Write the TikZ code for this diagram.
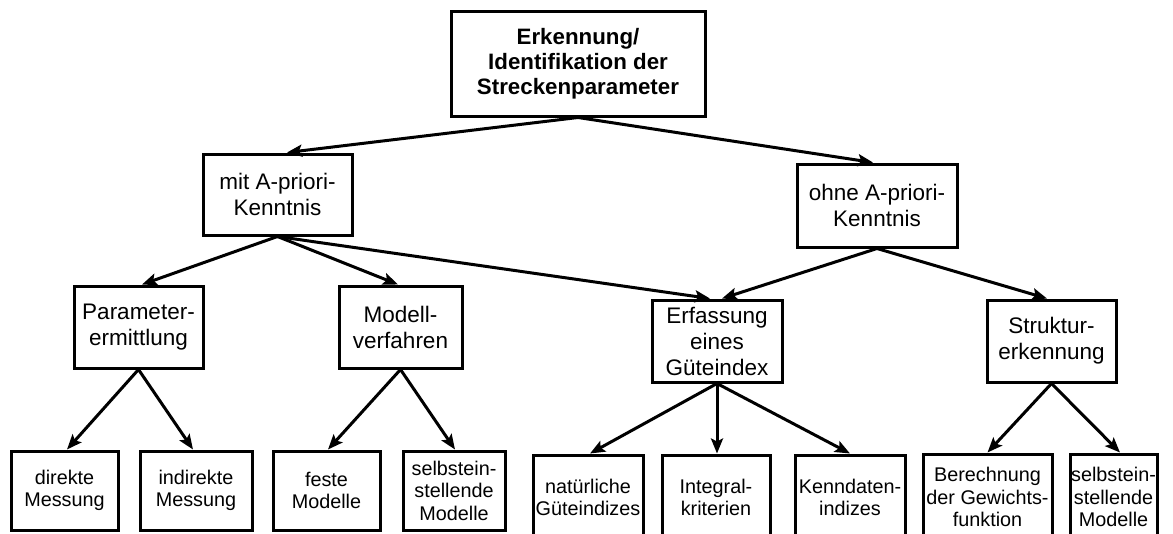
\documentclass[tikz,border=0pt]{standalone}
\usepackage{fontspec}
\setmainfont{Liberation Sans}
\usetikzlibrary{arrows.meta,calc}
\begin{document}
\begin{tikzpicture}[x=1pt,y=-1pt,
  box/.style={draw, line width=3pt, rectangle, align=center, inner sep=0pt},
  toptxt/.style={font=\fontsize{22.3}{25}\selectfont\bfseries},
  midtxt/.style={font=\fontsize{22.5}{26}\selectfont},
  lowtxt/.style={font=\fontsize{19.8}{22.5}\selectfont},
  link/.style={line width=3pt, -{Stealth[length=15pt,width=12pt,inset=3pt]}}]
\useasboundingbox (0,0) rectangle (1173,533);
\clip (0,0) rectangle (1173,533);

% root
\node[box, toptxt, minimum width=254pt, minimum height=105pt] (top) at (578,63.5)
  {Erkennung/\\Identifikation der\\Streckenparameter};

% second level
\node[box, midtxt, minimum width=149pt, minimum height=81pt] (mit) at (277.5,194.5)
  {mit A-priori-\\Kenntnis};
\node[box, midtxt, minimum width=160pt, minimum height=83pt] (ohne) at (877,205.5)
  {ohne A-priori-\\Kenntnis};

% third level
\node[box, midtxt, minimum width=129pt, minimum height=82pt] (param) at (138.5,327)
  {Parameter-\\ermittlung};
\node[box, midtxt, minimum width=123pt, minimum height=82pt] (modell) at (400.5,327)
  {Modell-\\verfahren};
\node[box, midtxt, minimum width=130pt, minimum height=82pt] (erf) at (717,341)
  {Erfassung\\eines\\Güteindex};
\node[box, midtxt, minimum width=129pt, minimum height=82pt] (struk) at (1051.5,341)
  {Struktur-\\erkennung};

% leaves
\node[box, lowtxt, minimum width=107pt, minimum height=79pt] (direkt) at (64.5,490.5)
  {direkte\\Messung};
\node[box, lowtxt, minimum width=112pt, minimum height=79pt] (indirekt) at (196,490.5)
  {indirekte\\Messung};
\node[box, lowtxt, minimum width=107pt, minimum height=79pt] (feste) at (326.5,490.5)
  {feste\\Modelle};
\node[box, lowtxt, minimum width=102pt, minimum height=79pt] (selbstA) at (454,490.5)
  {selbstein-\\stellende\\Modelle};
\node[box, lowtxt, minimum width=110pt, minimum height=85pt] (nat) at (588,497.5)
  {natürliche\\Güteindizes};
\node[box, lowtxt, minimum width=108pt, minimum height=85pt] (integ) at (716,497.5)
  {Integral-\\kriterien};
\node[box, lowtxt, minimum width=110pt, minimum height=85pt] (kenn) at (850,497.5)
  {Kenndaten-\\indizes};
\node[box, lowtxt, minimum width=129pt, minimum height=86pt] (berech) at (987.5,497)
  {Berechnung\\der Gewichts-\\funktion};
\node[box, lowtxt, minimum width=87pt, minimum height=86pt] (selbstB) at (1113.5,497)
  {selbstein-\\stellende\\Modelle};

% connectors
\draw[link] (top.south) -- ($(mit.north)+(9.5,0)$);
\draw[link] (top.south) -- ($(ohne.north)+(-4,0)$);

\draw[link] (mit.south) -- ($(param.north)+(3.5,0)$);
\draw[link] (mit.south) -- ($(modell.north)+(-2.5,0)$);
\draw[link] (mit.south) -- ($(erf.north)+(-7,0)$);

\draw[link] (ohne.south) -- ($(erf.north)+(5,0)$);
\draw[link] (ohne.south) -- ($(struk.north)+(-4.5,0)$);

\draw[link] (param.south) -- ($(direkt.north)+(2.5,0)$);
\draw[link] (param.south) -- ($(indirekt.north)+(-3,0)$);

\draw[link] (modell.south) -- ($(feste.north)+(1.5,0)$);
\draw[link] (modell.south) -- ($(selbstA.north)+(1,0)$);

\draw[link] (erf.south) -- ($(nat.north)+(2,0)$);
\draw[link] (erf.south) -- ($(integ.north)+(1,0)$);
\draw[link] (erf.south) -- (kenn.north);

\draw[link] (struk.south) -- (berech.north);
\draw[link] (struk.south) -- ($(selbstB.north)+(6.5,0)$);
\end{tikzpicture}
\end{document}
